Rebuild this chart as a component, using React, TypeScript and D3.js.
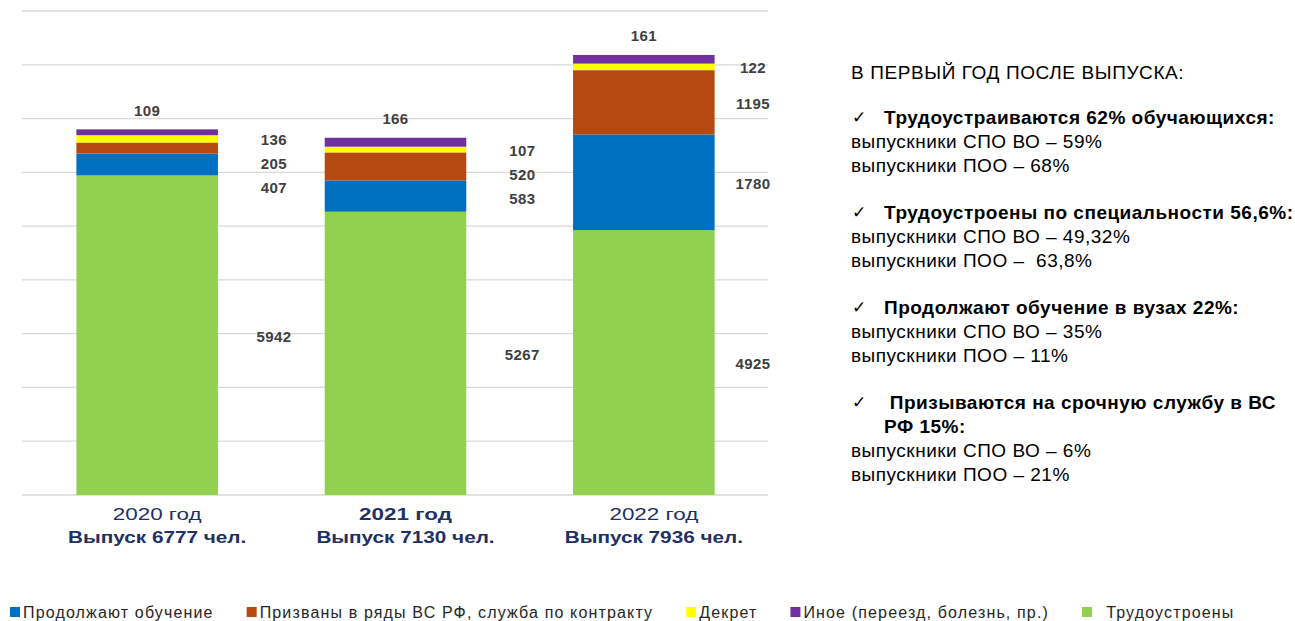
import { useLayoutEffect, useRef, useState } from 'react';
import * as d3 from 'd3';

const years = ['2020 год', '2021 год', '2022 год'];
const graduates = [6777, 7130, 7936];
const employed = [5942, 5267, 4925];
const studying = [407, 583, 1780];
const army = [205, 520, 1195];
const maternity = [136, 107, 122];
const other = [109, 166, 161];

const keys = ['studying', 'army', 'maternity', 'other', 'employed'];
const legendNames = [
  'Продолжают обучение',
  'Призваны в ряды ВС РФ, служба по контракту',
  'Декрет',
  'Иное (переезд, болезнь, пр.)',
  '  Трудоустроены',
];
const stackOrder = ['employed', 'studying', 'army', 'maternity', 'other'];

const colors: Record<string, string> = {
  employed: '#92d050',
  studying: '#0070c0',
  army: '#b5490f',
  maternity: '#ffff00',
  other: '#7030a0',
};

const notesHeader = 'В ПЕРВЫЙ ГОД ПОСЛЕ ВЫПУСКА:';
const notes = [
  { title: ['Трудоустраиваются 62% обучающихся:'], lines: ['выпускники СПО ВО – 59%', 'выпускники ПОО – 68%'] },
  { title: ['Трудоустроены по специальности 56,6%:'], lines: ['выпускники СПО ВО – 49,32%', 'выпускники ПОО –  63,8%'] },
  { title: ['Продолжают обучение в вузах 22%:'], lines: ['выпускники СПО ВО – 35%', 'выпускники ПОО – 11%'] },
  { title: [' Призываются на срочную службу в ВС', 'РФ 15%:'], lines: ['выпускники СПО ВО – 6%', 'выпускники ПОО – 21%'] },
];

const WIDTH = 1295;
const HEIGHT = 621;
const PLOT = { left: 23, right: 768, top: 11, bottom: 495 };
const LABEL_FONT = '"Liberation Sans", Arial, sans-serif';
const NAVY = '#1f3064';

export default function App() {
  const table = years.map((year, i) => ({
    year,
    employed: employed[i],
    studying: studying[i],
    army: army[i],
    maternity: maternity[i],
    other: other[i],
  }));

  const x = d3.scaleBand<string>().domain(years).range([PLOT.left, PLOT.right]).paddingInner(0.43).paddingOuter(0.215);
  const y = d3.scaleLinear().domain([0, 9000]).range([PLOT.bottom, PLOT.top]);
  const series = d3.stack<any>().keys(stackOrder)(table);

  const legendRefs = useRef<(SVGTextElement | null)[]>([]);
  const [legendWidths, setLegendWidths] = useState<number[]>(legendNames.map(() => 150));
  useLayoutEffect(() => {
    setLegendWidths(legendRefs.current.map((t) => (t ? t.getComputedTextLength() : 150)));
  }, []);

  // side labels: segment middles, pushed down so they do not overlap
  const sideLabels = years.flatMap((year, i) => {
    const segs = series
      .filter((s) => s.key !== 'other')
      .map((s) => ({ key: s.key, value: s[i].data[s.key], mid: (y(s[i][0]) + y(s[i][1])) / 2 }))
      .sort((a, b) => a.mid - b.mid);
    let prev = -Infinity;
    const lx = Math.min(x(year)! + x.bandwidth() + 56, PLOT.right - 15);
    return segs.map((s) => {
      const pos = Math.max(s.mid + 1, prev + 24);
      prev = pos;
      return { key: `${year}-${s.key}`, x: lx, y: pos, value: s.value };
    });
  });

  const otherSeries = series.find((s) => s.key === 'other')!;

  let legendX = 10;
  const legendItems = keys.map((k, i) => {
    const item = { key: k, x: legendX, name: legendNames[i] };
    legendX += 13 + legendWidths[i] + 33;
    return item;
  });

  let noteY = 124;
  const noteRows: { text: string; x: number; y: number; bold: boolean; check: boolean }[] = [];
  notes.forEach((n) => {
    n.title.forEach((t, j) => {
      noteRows.push({ text: t, x: 884, y: noteY, bold: true, check: j === 0 });
      noteY += 24;
    });
    n.lines.forEach((t) => {
      noteRows.push({ text: t, x: 851, y: noteY, bold: false, check: false });
      noteY += 24;
    });
    noteY += 23;
  });

  return (
    <svg width={WIDTH} height={HEIGHT} style={{ position: 'absolute', left: 0, top: 0, background: '#fff' }}>
      {y.ticks(10).map((t) => (
        <line key={t} x1={PLOT.left - 1} x2={PLOT.right} y1={y(t)} y2={y(t)} stroke="#d9d9d9" strokeWidth={1.3} />
      ))}

      {series.map((s) => (
        <g key={s.key} fill={colors[s.key]}>
          {s.map((d, i) => (
            <rect
              key={i}
              x={x(years[i])}
              width={x.bandwidth()}
              y={y(d[1])}
              height={y(d[0]) - y(d[1])}
            />
          ))}
        </g>
      ))}

      <g fontFamily={LABEL_FONT} fontWeight="bold" fontSize={15} fill="#404040" letterSpacing={0.4}>
        {sideLabels.map((l) => (
          <text key={l.key} x={l.x} y={l.y} textAnchor="middle" dominantBaseline="central">
            {l.value}
          </text>
        ))}
        {otherSeries.map((d, i) => (
          <text
            key={i}
            x={x(years[i])! + x.bandwidth() / 2}
            y={y(d[1]) - 19}
            textAnchor="middle"
            dominantBaseline="central"
          >
            {other[i]}
          </text>
        ))}
      </g>

      <g fontFamily={LABEL_FONT} fill={NAVY}>
        {years.map((year, i) => {
          const cx = x(year)! + x.bandwidth() / 2 + 10;
          return (
            <g key={year}>
              <g transform={`translate(${cx},520) scale(1.32,1)`}>
                <text textAnchor="middle" fontSize={17} fontWeight={i === 1 ? 'bold' : 'normal'}>
                  {year}
                </text>
              </g>
              <g transform={`translate(${cx},543) scale(1.22,1)`}>
                <text textAnchor="middle" fontSize={17} fontWeight="bold">
                  {`Выпуск ${graduates[i]} чел.`}
                </text>
              </g>
            </g>
          );
        })}
      </g>

      <g fontFamily={LABEL_FONT} fontSize={16} fill="#262626" letterSpacing={1.15}>
        {legendItems.map((l, i) => (
          <g key={l.key} transform={`translate(${l.x},612)`}>
            <rect x={0} y={-5} width={10} height={10} fill={colors[l.key]} />
            <text
              ref={(el) => {
                legendRefs.current[i] = el;
              }}
              x={13}
              y={0}
              dominantBaseline="central"
              style={{ whiteSpace: 'pre' }}
            >
              {l.name}
            </text>
          </g>
        ))}
      </g>

      <g fontFamily={LABEL_FONT} fontSize={19} fill="#000">
        <text x={851} y={79} letterSpacing={0.6}>
          {notesHeader}
        </text>
        {noteRows.map((r, i) => (
          <g key={i}>
            {r.check && (
              <text x={852} y={r.y - 1} fontFamily="DejaVu Sans" fontSize={17}>
                ✓
              </text>
            )}
            <text
              x={r.x}
              y={r.y}
              fontWeight={r.bold ? 'bold' : 'normal'}
              letterSpacing={0.5}
              style={{ whiteSpace: 'pre' }}
            >
              {r.text}
            </text>
          </g>
        ))}
      </g>
    </svg>
  );
}
